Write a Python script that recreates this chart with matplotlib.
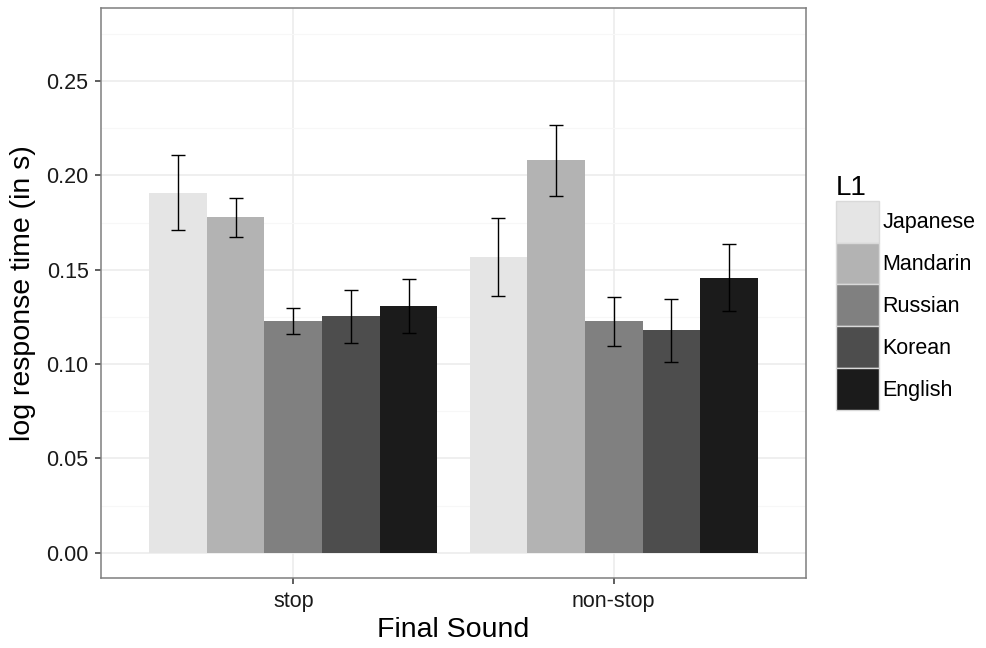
import matplotlib.pyplot as plt
import numpy as np
from matplotlib.patches import Patch

plt.rcParams['font.family'] = ['Liberation Sans', 'DejaVu Sans']

sounds = ["stop", "non-stop"]
languages = ["Japanese", "Mandarin", "Russian", "Korean", "English"]
fills = ["#E5E5E5", "#B3B3B3", "#808080", "#4D4D4D", "#1B1B1B"]

# mean log response time per L1, for [stop, non-stop]
means = {
    "Japanese": [0.1909, 0.1569],
    "Mandarin": [0.1778, 0.2080],
    "Russian": [0.1228, 0.1230],
    "Korean": [0.1253, 0.1179],
    "English": [0.1310, 0.1459],
}
lower = {
    "Japanese": [0.1712, 0.1363],
    "Mandarin": [0.1674, 0.1891],
    "Russian": [0.1160, 0.1098],
    "Korean": [0.1110, 0.1013],
    "English": [0.1163, 0.1283],
}
upper = {
    "Japanese": [0.2106, 0.1776],
    "Mandarin": [0.1882, 0.2269],
    "Russian": [0.1295, 0.1357],
    "Korean": [0.1393, 0.1347],
    "English": [0.1449, 0.1638],
}

fig = plt.figure(figsize=(9.87, 6.48), dpi=100)
ax = fig.add_axes([101 / 987, 1 - 578 / 648, 705 / 987, 570 / 648])

x = np.arange(len(sounds))
width = 0.18
for i, lang in enumerate(languages):
    pos = x + (i - 2) * width
    m = np.array(means[lang])
    ax.bar(pos, m, width=width, color=fills[i], zorder=2)
    err = [m - np.array(lower[lang]), np.array(upper[lang]) - m]
    ax.errorbar(pos, m, yerr=err, fmt="none", ecolor="black",
                elinewidth=1.0, capsize=4.7, capthick=1.0, zorder=3)

ax.set_xlim(-0.6, 1.6)
ax.set_ylim(-0.0134, 0.2888)
ax.set_xticks(x)
ax.set_xticklabels(sounds)
ax.set_yticks(np.arange(0, 0.26, 0.05))
ax.set_yticklabels([f"{v:.2f}" for v in np.arange(0, 0.26, 0.05)])
ax.set_yticks(np.arange(0.025, 0.28, 0.05), minor=True)

ax.grid(which="major", color="#EBEBEB", linewidth=1.1, zorder=0)
ax.grid(which="minor", axis="y", color="#F7F7F7", linewidth=0.8, zorder=0)
ax.set_axisbelow(True)
for s in ax.spines.values():
    s.set_color("#7F7F7F")
    s.set_linewidth(1.1)
ax.tick_params(which="major", length=4, width=1.1, color="#333333",
               labelsize=15.5, labelcolor="#1A1A1A", pad=5)
ax.tick_params(which="minor", length=0)

ax.set_xlabel("Final Sound", fontsize=20.5, labelpad=4)
ax.set_ylabel("log response time (in s)", fontsize=20.5, labelpad=7)

handles = [Patch(facecolor=f, edgecolor="#D9D9D9", linewidth=1.0) for f in fills]
leg = fig.legend(handles, languages, loc="upper left",
                 bbox_to_anchor=(827 / 987, 1 - 166 / 648),
                 title="L1", title_fontsize=20, fontsize=15.5,
                 frameon=False, handlelength=2.0, handleheight=2.62,
                 labelspacing=0.0, handletextpad=0.18, borderaxespad=0)
leg._legend_box.align = "left"

fig.savefig("out.png", dpi=100)
